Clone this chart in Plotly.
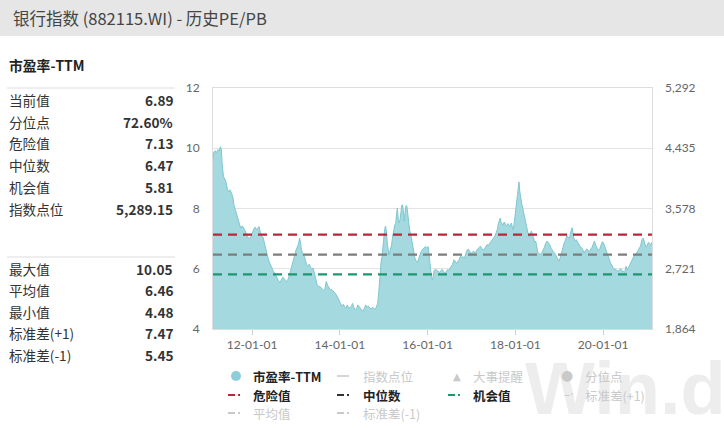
import pandas as pd
import plotly.graph_objects as go

# ---------------- data ----------------
title_text = "银行指数 (882115.WI) - 历史PE/PB"
panel_title = "市盈率-TTM"
stat_labels_top = ["当前值", "分位点", "危险值", "中位数", "机会值", "指数点位"]
stat_values_top = ["6.89", "72.60%", "7.13", "6.47", "5.81", "5,289.15"]
stat_labels_bot = ["最大值", "平均值", "最小值", "标准差(+1)", "标准差(-1)"]
stat_values_bot = ["10.05", "6.46", "4.48", "7.47", "5.45"]

danger_value = 7.13
median_value = 6.47
chance_value = 5.81

left_ticks = [4, 6, 8, 10, 12]
right_ticks = [1864, 2721, 3578, 4435, 5292]

# decimal-year time stamps and PE-TTM values
pe_years = [
    2011.11, 2011.13, 2011.16, 2011.19, 2011.22, 2011.25, 2011.28, 2011.30, 2011.32, 2011.35,
    2011.38, 2011.41, 2011.44, 2011.47, 2011.50, 2011.53, 2011.56, 2011.59, 2011.62, 2011.65,
    2011.68, 2011.71, 2011.74, 2011.77, 2011.80, 2011.83, 2011.86, 2011.89, 2011.92, 2011.95,
    2011.98, 2012.01, 2012.04, 2012.07, 2012.10, 2012.13, 2012.16, 2012.19, 2012.22, 2012.25,
    2012.28, 2012.31, 2012.34, 2012.37, 2012.40, 2012.43, 2012.46, 2012.49, 2012.52, 2012.55,
    2012.58, 2012.61, 2012.64, 2012.67, 2012.70, 2012.73, 2012.76, 2012.79, 2012.82, 2012.85,
    2012.88, 2012.91, 2012.94, 2012.97, 2013.00, 2013.03, 2013.06, 2013.08, 2013.10, 2013.12,
    2013.15, 2013.18, 2013.21, 2013.24, 2013.27, 2013.30, 2013.33, 2013.36, 2013.39, 2013.42,
    2013.45, 2013.48, 2013.51, 2013.54, 2013.57, 2013.60, 2013.63, 2013.66, 2013.69, 2013.72,
    2013.75, 2013.78, 2013.81, 2013.84, 2013.87, 2013.90, 2013.93, 2013.96, 2013.99, 2014.02,
    2014.05, 2014.08, 2014.11, 2014.14, 2014.17, 2014.20, 2014.23, 2014.26, 2014.29, 2014.32,
    2014.35, 2014.38, 2014.41, 2014.44, 2014.47, 2014.50, 2014.53, 2014.56, 2014.59, 2014.62,
    2014.65, 2014.68, 2014.71, 2014.74, 2014.77, 2014.80, 2014.83, 2014.86, 2014.88, 2014.90,
    2014.92, 2014.94, 2014.96, 2014.98, 2015.00, 2015.02, 2015.04, 2015.06, 2015.08, 2015.10,
    2015.12, 2015.14, 2015.16, 2015.18, 2015.20, 2015.22, 2015.25, 2015.27, 2015.29, 2015.31,
    2015.33, 2015.35, 2015.37, 2015.39, 2015.41, 2015.43, 2015.45, 2015.47, 2015.49, 2015.51,
    2015.53, 2015.55, 2015.57, 2015.59, 2015.62, 2015.65, 2015.68, 2015.71, 2015.74, 2015.77,
    2015.80, 2015.83, 2015.86, 2015.89, 2015.92, 2015.95, 2015.98, 2016.01, 2016.03, 2016.05,
    2016.07, 2016.09, 2016.11, 2016.13, 2016.15, 2016.18, 2016.21, 2016.24, 2016.27, 2016.30,
    2016.33, 2016.36, 2016.39, 2016.42, 2016.45, 2016.48, 2016.51, 2016.54, 2016.57, 2016.60,
    2016.63, 2016.66, 2016.69, 2016.72, 2016.75, 2016.78, 2016.81, 2016.84, 2016.87, 2016.90,
    2016.93, 2016.96, 2016.99, 2017.02, 2017.05, 2017.08, 2017.11, 2017.14, 2017.17, 2017.20,
    2017.23, 2017.26, 2017.29, 2017.32, 2017.35, 2017.38, 2017.41, 2017.44, 2017.47, 2017.50,
    2017.53, 2017.56, 2017.59, 2017.61, 2017.63, 2017.65, 2017.67, 2017.69, 2017.71, 2017.73,
    2017.75, 2017.77, 2017.79, 2017.81, 2017.83, 2017.85, 2017.87, 2017.89, 2017.91, 2017.93,
    2017.95, 2017.97, 2017.99, 2018.01, 2018.03, 2018.05, 2018.07, 2018.08, 2018.10, 2018.12,
    2018.14, 2018.16, 2018.18, 2018.20, 2018.22, 2018.24, 2018.26, 2018.28, 2018.30, 2018.32,
    2018.34, 2018.36, 2018.38, 2018.40, 2018.42, 2018.44, 2018.46, 2018.48, 2018.51, 2018.54,
    2018.57, 2018.60, 2018.63, 2018.66, 2018.69, 2018.72, 2018.75, 2018.78, 2018.81, 2018.84,
    2018.87, 2018.90, 2018.93, 2018.96, 2018.99, 2019.02, 2019.05, 2019.08, 2019.11, 2019.14,
    2019.17, 2019.20, 2019.23, 2019.26, 2019.29, 2019.31, 2019.33, 2019.36, 2019.39, 2019.42,
    2019.45, 2019.48, 2019.51, 2019.54, 2019.57, 2019.60, 2019.63, 2019.66, 2019.69, 2019.72,
    2019.75, 2019.78, 2019.80, 2019.83, 2019.86, 2019.89, 2019.92, 2019.95, 2019.98, 2020.01,
    2020.04, 2020.07, 2020.10, 2020.13, 2020.16, 2020.19, 2020.22, 2020.25, 2020.28, 2020.31,
    2020.34, 2020.37, 2020.40, 2020.43, 2020.46, 2020.49, 2020.52, 2020.55, 2020.58, 2020.61,
    2020.64, 2020.67, 2020.70, 2020.73, 2020.76, 2020.79, 2020.82, 2020.85, 2020.88, 2020.91,
    2020.94, 2020.97, 2021.00, 2021.03, 2021.06, 2021.09, 2021.11,
]
pe_values = [
    9.62, 9.88, 9.92, 9.85, 9.95, 9.92, 10.05, 9.95, 9.45, 9.05,
    8.98, 8.85, 8.62, 8.55, 8.62, 8.48, 8.40, 8.10, 7.95, 7.75,
    7.60, 7.45, 7.35, 7.42, 7.38, 7.30, 7.15, 7.08, 7.02, 7.00,
    7.08, 7.22, 7.32, 7.38, 7.30, 7.35, 7.40, 7.20, 7.08, 7.05,
    6.85, 6.65, 6.45, 6.32, 6.20, 6.08, 5.98, 5.90, 5.85, 5.75,
    5.65, 5.58, 5.55, 5.62, 5.72, 5.68, 5.60, 5.58, 5.65, 5.78,
    5.95, 6.15, 6.35, 6.50, 6.62, 6.72, 6.85, 7.02, 6.90, 6.65,
    6.50, 6.45, 6.30, 6.15, 6.10, 6.15, 6.05, 6.00, 6.02, 5.85,
    5.60, 5.48, 5.42, 5.40, 5.38, 5.32, 5.28, 5.35, 5.58, 5.45,
    5.35, 5.30, 5.32, 5.25, 5.22, 5.18, 5.12, 5.02, 4.92, 4.85,
    4.75, 4.82, 4.72, 4.70, 4.80, 4.68, 4.72, 4.75, 4.85, 4.70,
    4.65, 4.68, 4.80, 4.74, 4.66, 4.62, 4.60, 4.70, 4.80, 4.72,
    4.76, 4.70, 4.66, 4.72, 4.68, 4.65, 4.72, 4.85, 5.10, 5.55,
    5.95, 6.25, 6.40, 6.75, 7.05, 7.30, 7.42, 7.25, 6.85, 6.50,
    6.45, 6.58, 6.70, 6.80, 7.05, 7.25, 7.45, 7.50, 7.95, 8.02,
    7.65, 7.52, 7.62, 7.90, 8.10, 8.12, 7.80, 7.58, 7.95, 8.10,
    8.05, 7.70, 7.50, 7.28, 7.10, 6.80, 6.52, 6.35, 6.25, 6.22,
    6.35, 6.52, 6.60, 6.65, 6.70, 6.74, 6.68, 6.74, 6.50, 6.20,
    5.85, 5.68, 5.62, 5.78, 5.95, 5.98, 5.96, 5.92, 5.88, 5.95,
    5.98, 5.92, 5.85, 5.90, 5.97, 5.95, 6.02, 6.10, 6.15, 6.30,
    6.22, 6.18, 6.25, 6.30, 6.42, 6.38, 6.40, 6.35, 6.50, 6.62,
    6.65, 6.55, 6.50, 6.56, 6.58, 6.52, 6.62, 6.66, 6.70, 6.75,
    6.68, 6.62, 6.65, 6.72, 6.80, 6.78, 6.84, 6.92, 6.95, 7.02,
    7.08, 7.20, 7.32, 7.50, 7.58, 7.68, 7.55, 7.48, 7.45, 7.52,
    7.55, 7.48, 7.42, 7.46, 7.50, 7.44, 7.40, 7.48, 7.52, 7.35,
    7.30, 7.50, 7.75, 7.95, 8.25, 8.55, 8.82, 8.88, 8.55, 8.30,
    8.18, 8.05, 7.90, 7.72, 7.58, 7.50, 7.40, 7.22, 7.12, 7.05,
    7.15, 7.25, 7.18, 7.05, 6.95, 6.88, 6.92, 6.72, 6.55, 6.50,
    6.48, 6.52, 6.60, 6.72, 6.85, 6.92, 6.86, 6.80, 6.68, 6.60,
    6.56, 6.50, 6.40, 6.30, 6.25, 6.36, 6.55, 6.72, 6.85, 6.95,
    7.10, 7.05, 7.00, 7.22, 7.36, 7.20, 7.02, 6.92, 6.96, 6.88,
    6.78, 6.72, 6.70, 6.58, 6.52, 6.62, 6.66, 6.60, 6.58, 6.66,
    6.72, 6.85, 6.92, 6.78, 6.66, 6.60, 6.66, 6.80, 6.90, 6.85,
    6.74, 6.60, 6.48, 6.35, 6.22, 6.12, 6.05, 6.00, 5.96, 5.95,
    5.92, 5.96, 6.00, 5.94, 5.90, 5.88, 6.08, 5.96, 6.05, 6.15,
    6.25, 6.35, 6.42, 6.48, 6.52, 6.60, 6.68, 6.75, 6.95, 7.02,
    6.90, 6.72, 6.78, 6.88, 6.82, 6.80, 6.89,
]

legend_row1 = ["市盈率-TTM", "指数点位", "大事提醒", "分位点"]
legend_row2 = ["危险值", "中位数", "机会值", "标准差(+1)"]
legend_row3 = ["平均值", "标准差(-1)"]


def to_date(y):
    yr = int(y)
    return pd.Timestamp(yr, 1, 1) + pd.Timedelta(days=(y - yr) * 365.25)


pe_dates = [to_date(y) for y in pe_years]

# ---------------- layout helpers ----------------
W, H = 724, 428
PL, PR, PT, PB = 213, 652, 88, 329


def X(px):
    return (px - PL) / (PR - PL)


def Y(py):
    return (PB - py) / (PB - PT)


CJK = "Microsoft YaHei, Noto Sans CJK SC, sans-serif"
AXF = "Lato, Noto Sans, sans-serif"

TEAL_FILL = "#a3d9df"
TEAL_LINE = "#7fc7d0"
RED = "#b5283a"
GREY = "#7d7d7d"
GREEN = "#1f9672"
LIGHT = "#c9c9c9"

fig = go.Figure()

fig.add_trace(go.Scatter(
    x=pe_dates, y=pe_values, mode="lines", fill="tozeroy",
    line=dict(color=TEAL_LINE, width=1), fillcolor=TEAL_FILL,
    showlegend=False, hoverinfo="skip"))

for val, col in [(danger_value, RED), (median_value, GREY), (chance_value, GREEN)]:
    fig.add_trace(go.Scatter(
        x=[pe_dates[0], pe_dates[-1]], y=[val, val], mode="lines",
        line=dict(color=col, width=2.2, dash="9px,6px"),
        showlegend=False, hoverinfo="skip"))

# invisible trace to anchor the right axis (index points are hidden)
fig.add_trace(go.Scatter(x=[pe_dates[0]], y=[right_ticks[0]], yaxis="y2",
                         mode="markers", marker=dict(opacity=0),
                         showlegend=False, hoverinfo="skip"))

shapes = []
ann = []

# header bar
shapes.append(dict(type="rect", xref="paper", yref="paper",
                   x0=X(0), x1=X(W), y0=Y(36), y1=Y(0),
                   fillcolor="#e6e6e6", line=dict(width=0), layer="below"))
ann.append(dict(text=title_text, x=X(11), y=Y(18), xref="paper", yref="paper",
                xanchor="left", yanchor="middle", showarrow=False,
                font=dict(family=CJK, size=16.5, color="#444444")))

# watermark
ann.append(dict(text="<b>Win.d</b>", x=X(523), y=Y(388), xref="paper", yref="paper",
                xanchor="left", yanchor="middle", showarrow=False,
                font=dict(family="Liberation Sans, Arial, sans-serif", size=74, color="#ededed")))

# left panel
ann.append(dict(text="<b>" + panel_title + "</b>", x=X(7), y=Y(65), xref="paper", yref="paper",
                xanchor="left", yanchor="middle", showarrow=False,
                font=dict(family=CJK, size=13.8, color="#222222")))
for yline in (88, 257):
    shapes.append(dict(type="line", xref="paper", yref="paper",
                       x0=X(7), x1=X(175), y0=Y(yline), y1=Y(yline),
                       line=dict(color="#dddddd", width=1)))

row_y_top = [100, 121.7, 143.3, 165.3, 187.3, 209]
row_y_bot = [268.5, 290, 311.7, 333.3, 355]
for labels, values, ys in [(stat_labels_top, stat_values_top, row_y_top),
                           (stat_labels_bot, stat_values_bot, row_y_bot)]:
    for lab, val, yy in zip(labels, values, ys):
        ann.append(dict(text=lab, x=X(7), y=Y(yy), xref="paper", yref="paper",
                        xanchor="left", yanchor="middle", showarrow=False,
                        font=dict(family=CJK, size=13.6, color="#333333")))
        ann.append(dict(text="<b>" + val + "</b>", x=X(175), y=Y(yy), xref="paper", yref="paper",
                        xanchor="right", yanchor="middle", showarrow=False,
                        font=dict(family=CJK, size=13.6, color="#333333")))

# legend
col_text_x = [251, 361, 471, 583]
ly = [376, 395, 413]


def leg_text(txt, cx, cy, active):
    ann.append(dict(text=("<b>" + txt + "</b>") if active else txt,
                    x=X(cx), y=Y(cy), xref="paper", yref="paper",
                    xanchor="left", yanchor="middle", showarrow=False,
                    font=dict(family=CJK, size=12.5, color="#222222" if active else LIGHT)))


def dash_dot(x0, cy, col):
    shapes.append(dict(type="line", xref="paper", yref="paper",
                       x0=X(x0), x1=X(x0 + 7), y0=Y(cy), y1=Y(cy),
                       line=dict(color=col, width=2)))
    shapes.append(dict(type="rect", xref="paper", yref="paper",
                       x0=X(x0 + 10), x1=X(x0 + 12), y0=Y(cy + 1), y1=Y(cy - 1),
                       fillcolor=col, line=dict(width=0)))


def icon_text(sym, cx, cy, size):
    # icons drawn as text so they sit above the watermark
    ann.append(dict(text=sym, x=X(cx), y=Y(cy), xref="paper", yref="paper",
                    xanchor="center", yanchor="middle", showarrow=False,
                    font=dict(family="DejaVu Sans", size=size, color=LIGHT)))


# row 1
shapes.append(dict(type="circle", xref="paper", yref="paper",
                   x0=X(231), x1=X(241), y0=Y(381), y1=Y(371),
                   fillcolor="#8ccfd8", line=dict(width=0)))
leg_text(legend_row1[0], col_text_x[0], ly[0], True)
shapes.append(dict(type="line", xref="paper", yref="paper",
                   x0=X(337), x1=X(349), y0=Y(ly[0]), y1=Y(ly[0]),
                   line=dict(color=LIGHT, width=1.5)))
leg_text(legend_row1[1], col_text_x[1], ly[0], False)
icon_text("▲", 457, ly[0], 10)
leg_text(legend_row1[2], col_text_x[2], ly[0], False)
icon_text("●", 567, ly[0] - 1, 14)
leg_text(legend_row1[3], col_text_x[3], ly[0], False)

# row 2
dash_dot(228, ly[1], RED)
leg_text(legend_row2[0], col_text_x[0], ly[1], True)
dash_dot(337, ly[1], "#333333")
leg_text(legend_row2[1], col_text_x[1], ly[1], True)
dash_dot(448, ly[1], GREEN)
leg_text(legend_row2[2], col_text_x[2], ly[1], True)
icon_text("–·", 569, ly[1], 12)
leg_text(legend_row2[3], col_text_x[3], ly[1], False)

# row 3
dash_dot(228, ly[2], LIGHT)
leg_text(legend_row3[0], col_text_x[0], ly[2], False)
dash_dot(337, ly[2], LIGHT)
leg_text(legend_row3[1], col_text_x[1], ly[2], False)

fig.update_layout(
    width=W, height=H,
    margin=dict(l=PL, r=W - PR, t=PT, b=H - PB),
    paper_bgcolor="white", plot_bgcolor="white",
    xaxis=dict(
        type="date", range=[pe_dates[0], pe_dates[-1]],
        tick0="2012-01-01", dtick="M24", tickformat="%y-%m-%d",
        ticks="outside", ticklen=5, tickcolor="#cccccc",
        showgrid=False, showline=True, linecolor="#dddddd", mirror=True,
        tickfont=dict(family=AXF, size=12, color="#666666"),
        zeroline=False),
    yaxis=dict(
        range=[4, 12], tickvals=left_ticks, showgrid=True, gridcolor="#e3e3e3",
        showline=True, linecolor="#dddddd", mirror=True, zeroline=False,
        ticklabelstandoff=10,
        tickfont=dict(family=AXF, size=12, color="#666666")),
    yaxis2=dict(
        overlaying="y", side="right", range=[right_ticks[0], right_ticks[-1]],
        tickvals=right_ticks, tickformat=",d", showgrid=False, zeroline=False,
        showline=False, ticklabelstandoff=12,
        tickfont=dict(family=AXF, size=12, color="#666666")),
    shapes=shapes, annotations=ann,
)

fig.write_html("out.html", config={"displayModeBar": False},
               post_script="document.body.style.margin='0';document.body.style.overflow='hidden';")
